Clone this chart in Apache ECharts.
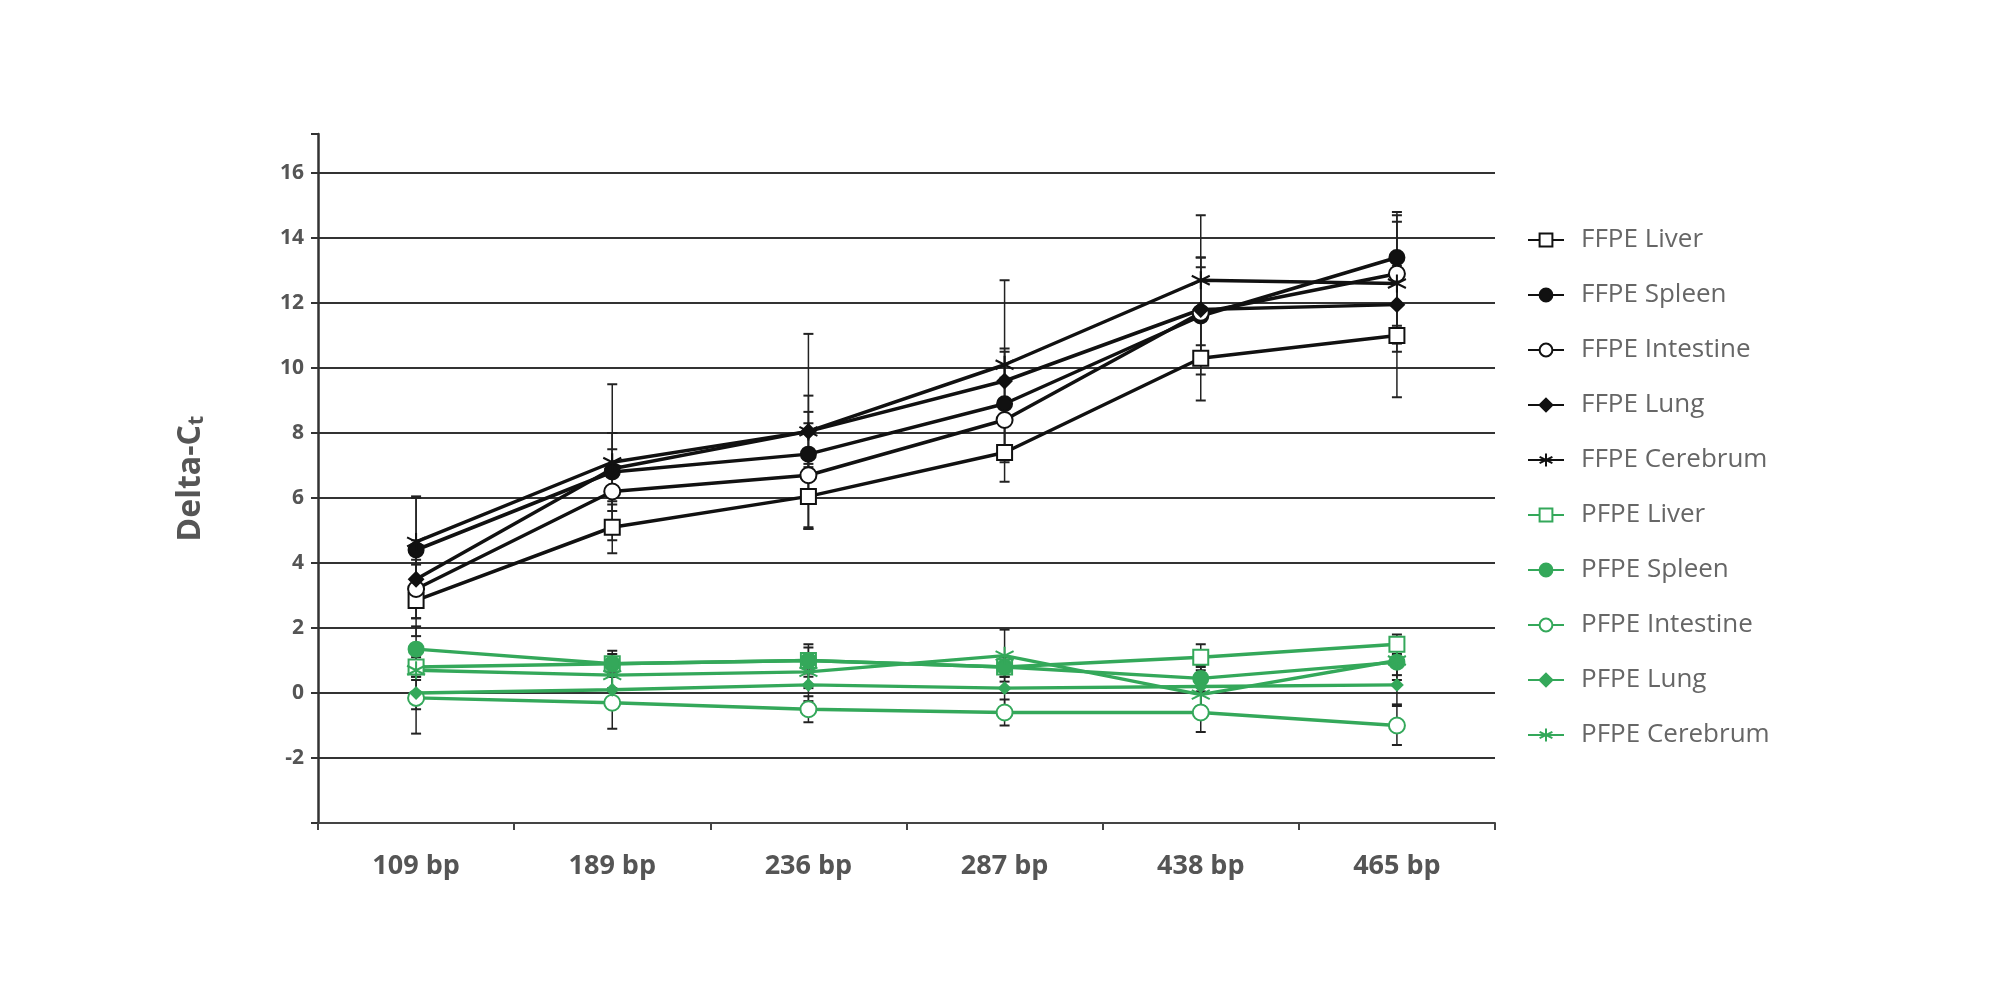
<!DOCTYPE html>
<html>
<head>
<meta charset="utf-8">
<script src="https://cdn.jsdelivr.net/npm/echarts@6/dist/echarts.min.js"></script>
<style>
html,body{margin:0;padding:0;background:#fff;}
#main{width:2000px;height:1000px;}
</style>
</head>
<body>
<div id="main"></div>
<script>
var categories = ['109 bp', '189 bp', '236 bp', '287 bp', '438 bp', '465 bp'];

var ffpeLiver     = [2.85, 5.1, 6.05, 7.4, 10.3, 11.0];
var ffpeSpleen    = [4.4, 6.8, 7.35, 8.9, 11.6, 13.4];
var ffpeIntestine = [3.2, 6.2, 6.7, 8.4, 11.7, 12.9];
var ffpeLung      = [3.5, 6.9, 8.05, 9.6, 11.8, 11.95];
var ffpeCerebrum  = [4.65, 7.1, 8.05, 10.1, 12.7, 12.6];

var pfpeLiver     = [0.8, 0.9, 1.0, 0.8, 1.1, 1.5];
var pfpeSpleen    = [1.35, 0.9, 1.0, 0.8, 0.45, 0.95];
var pfpeIntestine = [-0.15, -0.3, -0.5, -0.6, -0.6, -1.0];
var pfpeLung      = [0.0, 0.1, 0.25, 0.15, 0.2, 0.25];
var pfpeCerebrum  = [0.7, 0.55, 0.65, 1.15, -0.05, 1.0];

// error bar half-widths
var errFfpeLiver     = [1.1, 0.8, 1.0, 0.9, 1.3, 1.9];
var errFfpeSpleen    = [1.6, 1.2, 1.3, 1.6, 1.8, 1.4];
var errFfpeIntestine = [0.9, 1.3, 1.6, 1.3, 1.4, 1.6];
var errFfpeLung      = [1.2, 1.1, 1.1, 1.0, 1.6, 1.2];
var errFfpeCerebrum  = [1.4, 2.4, 3.0, 2.6, 2.0, 2.1];
var errPfpeLiver     = [0.3, 0.3, 0.4, 0.3, 0.4, 0.3];
var errPfpeSpleen    = [0.7, 0.4, 0.5, 0.3, 0.4, 0.4];
var errPfpeIntestine = [1.1, 0.8, 0.4, 0.4, 0.6, 0.6];
var errPfpeLung      = [0.5, 0.5, 0.5, 0.6, 0.6, 0.6];
var errPfpeCerebrum  = [0.3, 0.4, 0.5, 0.8, 0.6, 0.6];

var BLACK = '#111111';
var GREEN = '#34a85a';
var asterisk = 'path://M0,-10L0,10M-8.66,-5L8.66,5M-8.66,5L8.66,-5';

var defs = [
  {name:'FFPE Liver', data:ffpeLiver, err:errFfpeLiver, color:BLACK, symbol:'emptyRect', size:15},
  {name:'FFPE Spleen', data:ffpeSpleen, err:errFfpeSpleen, color:BLACK, symbol:'circle', size:15},
  {name:'FFPE Intestine', data:ffpeIntestine, err:errFfpeIntestine, color:BLACK, symbol:'emptyCircle', size:16},
  {name:'FFPE Lung', data:ffpeLung, err:errFfpeLung, color:BLACK, symbol:'diamond', size:14},
  {name:'FFPE Cerebrum', data:ffpeCerebrum, err:errFfpeCerebrum, color:BLACK, symbol:asterisk, size:18},
  {name:'PFPE Liver', data:pfpeLiver, err:errPfpeLiver, color:GREEN, symbol:'emptyRect', size:15},
  {name:'PFPE Spleen', data:pfpeSpleen, err:errPfpeSpleen, color:GREEN, symbol:'circle', size:15},
  {name:'PFPE Intestine', data:pfpeIntestine, err:errPfpeIntestine, color:GREEN, symbol:'emptyCircle', size:16},
  {name:'PFPE Lung', data:pfpeLung, err:errPfpeLung, color:GREEN, symbol:'diamond', size:11},
  {name:'PFPE Cerebrum', data:pfpeCerebrum, err:errPfpeCerebrum, color:GREEN, symbol:asterisk, size:18}
];

function errorBars(vals, errs){
  var out = [];
  for (var i = 0; i < vals.length; i++) {
    out.push([i, vals[i] - errs[i], vals[i] + errs[i]]);
  }
  return out;
}

function renderError(params, api){
  var lo = api.coord([api.value(0), api.value(1)]);
  var hi = api.coord([api.value(0), api.value(2)]);
  var w = 5;
  return {
    type:'group',
    children:[
      {type:'line', shape:{x1:lo[0], y1:lo[1], x2:hi[0], y2:hi[1]}, style:{stroke:'#222', lineWidth:1.5}},
      {type:'line', shape:{x1:lo[0]-w, y1:lo[1], x2:lo[0]+w, y2:lo[1]}, style:{stroke:'#222', lineWidth:2}},
      {type:'line', shape:{x1:hi[0]-w, y1:hi[1], x2:hi[0]+w, y2:hi[1]}, style:{stroke:'#222', lineWidth:2}}
    ]
  };
}

var series = [];
defs.forEach(function(d){
  series.push({
    type:'custom',
    renderItem:renderError,
    data:errorBars(d.data, d.err),
    encode:{x:0, y:[1,2]},
    z:1,
    silent:true
  });
});
defs.forEach(function(d){
  series.push({
    name:d.name,
    type:'line',
    data:d.data,
    symbol:d.symbol,
    symbolSize:d.size,
    showAllSymbol:true,
    lineStyle:{color:d.color, width:3.5},
    itemStyle:{color:d.color, borderColor:d.color, borderWidth:2},
    z:3
  });
});

var chart = echarts.init(document.getElementById('main'));
chart.setOption({
  backgroundColor:'#fff',
  animation:false,
  grid:{left:318, right:505, top:134, bottom:177},
  legend:{
    orient:'vertical',
    left:1522,
    top:222,
    itemGap:29,
    itemWidth:36,
    itemHeight:16,
    textStyle:{color:'#666', fontSize:26, fontFamily:'Open Sans', padding:[0,0,0,12]},
    data:defs.map(function(d){ return d.name; })
  },
  xAxis:[{
    type:'category',
    data:categories,
    axisLine:{show:false},
    axisTick:{show:false},
    axisLabel:{color:'#555', fontSize:27, fontWeight:'bold', fontFamily:'Open Sans', margin:30}
  },{
    type:'category',
    data:categories,
    position:'bottom',
    axisLine:{onZero:true, lineStyle:{color:'#444', width:2}},
    axisTick:{show:true, length:7, lineStyle:{color:'#444', width:2}},
    axisLabel:{show:false}
  }],
  yAxis:{
    type:'value',
    min:-4,
    max:17.2,
    interval:2,
    name:'Delta-C{s|t}',
    nameLocation:'middle',
    nameGap:110,
    nameTextStyle:{color:'#555', fontSize:32, fontWeight:'bold', fontFamily:'Open Sans',
      rich:{s:{fontSize:22, fontWeight:'bold', color:'#555', verticalAlign:'bottom', padding:[12,0,0,0]}}},
    axisLine:{show:true, lineStyle:{color:'#333', width:2.5}},
    axisTick:{show:true, length:7, lineStyle:{color:'#333', width:2}},
    axisLabel:{color:'#555', fontSize:21, fontWeight:'bold', fontFamily:'Open Sans', margin:14,
      formatter:function(v){ return (v === -4 || v > 16) ? '' : v; }},
    splitLine:{lineStyle:{color:'#333', width:2},
      showMinLine:false, showMaxLine:false}
  },
  series:series
});
</script>
</body>
</html>
